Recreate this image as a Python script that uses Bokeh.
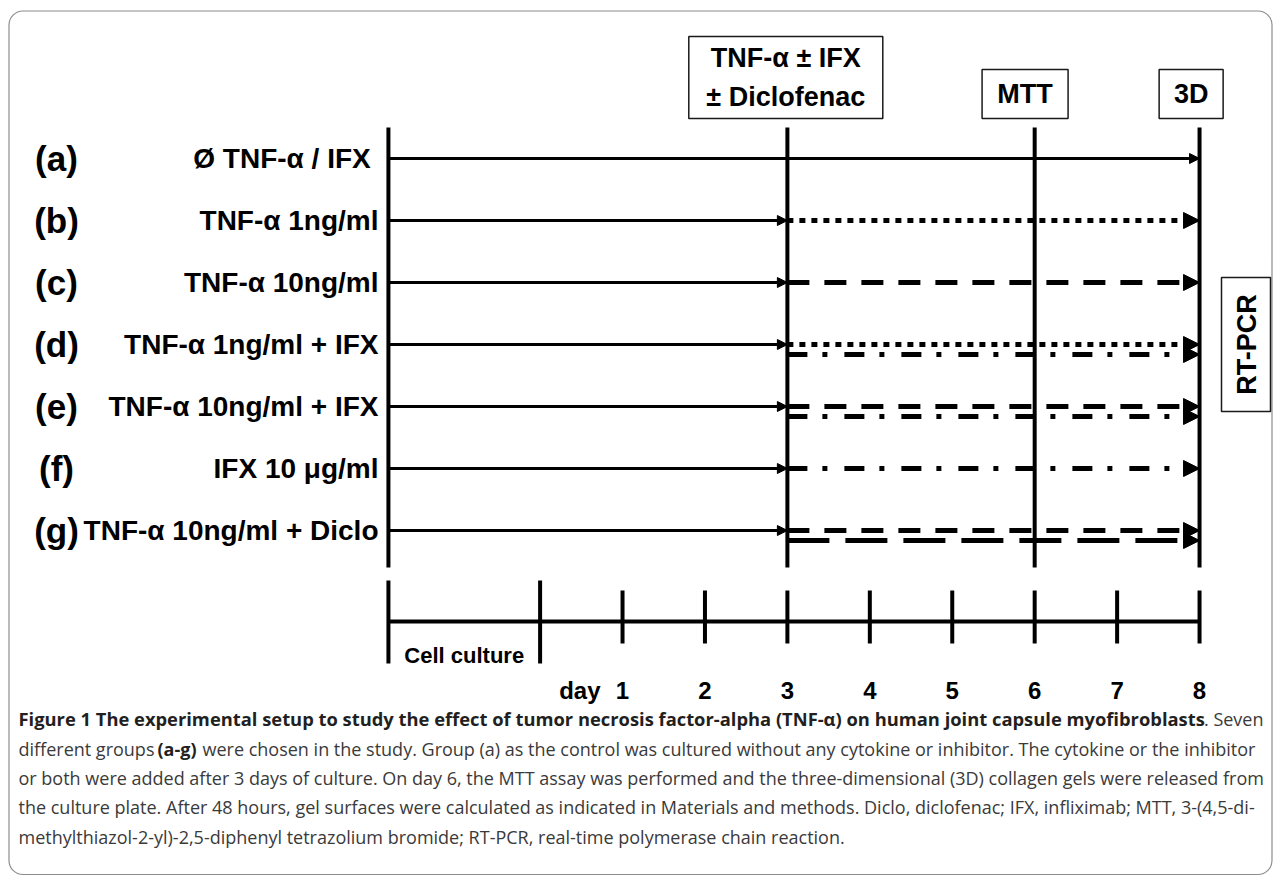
import math
from bokeh.plotting import figure
from bokeh.models import Range1d, Arrow, NormalHead, ColumnDataSource
from bokeh.core.properties import value
from bokeh.embed import file_html
from bokeh.resources import INLINE

# ---------------- data ----------------
group_letters = ["(a)", "(b)", "(c)", "(d)", "(e)", "(f)", "(g)"]
group_labels = ["Ø TNF-α / IFX\u00a0", "TNF-α 1ng/ml", "TNF-α 10ng/ml",
                "TNF-α 1ng/ml + IFX", "TNF-α 10ng/ml + IFX", "IFX 10 μg/ml",
                "TNF-α 10ng/ml + Diclo"]
# line style(s) drawn from the treatment day to the end, per group (upper, lower)
group_treatments = [[], ["dotted"], ["dashed"], ["dotted", "dashdot"],
                    ["dashed", "dashdot"], ["dashdot"], ["dashed", "longdash"]]
day_ticks = [1, 2, 3, 4, 5, 6, 7, 8]
day_tick_labels = ["1", "2", "3", "4", "5", "6", "7", "8"]
culture_start = -1.84      # beginning of the cell-culture period (in days)
culture_end = 0
treatment_day = 3
gel_day = 8
phase_days = [culture_start, 3, 6, 8]
event_days = [3, 6, 8]
event_labels = ["TNF-α ± IFX\n± Diclofenac", "MTT", "3D"]
side_label = "RT-PCR"
culture_label = "Cell culture"
day_word = "day"
caption_bold_1 = ("Figure 1 The experimental setup to study the effect of tumor necrosis "
                  "factor-alpha (TNF-α) on human joint capsule myofibroblasts")
caption_tail_1 = ". Seven"
caption_2a = "different groups"
caption_2b = "(a-g)"
caption_2c = ("were chosen in the study. Group (a) as the control was cultured without "
              "any cytokine or inhibitor. The cytokine or the inhibitor")
caption_rest = [
    "or both were added after 3 days of culture. On day 6, the MTT assay was performed "
    "and the three-dimensional (3D) collagen gels were released from",
    "the culture plate. After 48 hours, gel surfaces were calculated as indicated in "
    "Materials and methods. Diclo, diclofenac; IFX, infliximab; MTT, 3-(4,5-di-",
    "methylthiazol-2-yl)-2,5-diphenyl tetrazolium bromide; RT-PCR, real-time "
    "polymerase chain reaction.",
]

# ---------------- layout / styles ----------------
W, H = 1273, 876
X0, DX = 539.6, 82.43     # pixel of day 0, pixels per day
Y0, DY = 158.0, 62.0      # pixel of row 0, pixels per row
dash_styles = {"dotted": "6 6", "dashed": "22 15", "dashdot": "20 15 5 17",
               "longdash": "42 16"}
ARIAL = value("Liberation Sans")
CAPF = value("Open Sans")

p = figure(width=W, height=H, title=None,
           x_range=Range1d(-X0 / DX, (W - X0) / DX),
           y_range=Range1d((H - Y0) / DY, -Y0 / DY),
           output_backend="svg", toolbar_location=None,
           x_axis_location=None, y_axis_location=None,
           min_border=0, outline_line_color=None,
           background_fill_color="white", border_fill_color="white")
p.extra_x_ranges = {"px": Range1d(0, W)}
p.extra_y_ranges = {"px": Range1d(H, 0)}
p.grid.visible = False

# rounded frame
p.quad(left=[8.5], right=[W - 1.5], top=[10.5], bottom=[H - 2], x_range_name="px",
       y_range_name="px", fill_color=None, line_color="#8c8c8c", line_width=1.2,
       border_radius=14)

# phase vertical lines
p.segment(x0=phase_days, x1=phase_days, y0=[127] * len(phase_days),
          y1=[567] * len(phase_days), y_range_name="px", line_color="black",
          line_width=4)

# solid pre-treatment arrows
rows = list(range(len(group_letters)))
sx1 = [gel_day if not t else treatment_day for t in group_treatments]
solid_src = ColumnDataSource(dict(x0=[culture_start] * len(rows), x1=sx1, y=rows))
p.add_layout(Arrow(end=NormalHead(size=10, fill_color="black", line_color="black",
                                  line_width=1),
                   source=solid_src, x_start="x0", y_start="y", x_end="x1", y_end="y",
                   line_color="black", line_width=3))

# treatment arrows
off = 10.0 / DY
for style, dash in dash_styles.items():
    ys = []
    for i, tr in enumerate(group_treatments):
        for k, s in enumerate(tr):
            if s == style:
                ys.append(i + k * off)
    if not ys:
        continue
    src = ColumnDataSource(dict(x0=[treatment_day] * len(ys), x1=[gel_day] * len(ys), y=ys))
    p.add_layout(Arrow(end=NormalHead(size=16, fill_color="black", line_color="black",
                                      line_width=1),
                       source=src, x_start="x0", y_start="y", x_end="x1", y_end="y",
                       line_color="black", line_width=5, line_dash=dash))

# group letters and labels
p.text(x=[56] * len(rows), y=rows, text=group_letters, x_range_name="px",
       text_font=ARIAL, text_font_style="bold", text_font_size="35px",
       text_align="center", text_baseline="middle", text_color="black")
p.text(x=[378] * len(rows), y=rows, text=group_labels, x_range_name="px",
       text_font=ARIAL, text_font_style="bold", text_font_size="28px",
       text_align="right", text_baseline="middle", text_color="black")

# event boxes
box_dx = [-1.6, -9.6, -8.4]
box_w = [194, 86, 64]
box_h = [82, 49, 49]
box_y = [77, 93.5, 93.5]
ex = [d + dx / DX for d, dx in zip(event_days, box_dx)]
p.rect(x=ex, y=box_y, width=box_w, height=box_h, width_units="screen",
       height_units="screen", y_range_name="px", fill_color="white",
       line_color="#1a1a1a", line_width=1.5)
p.text(x=ex, y=box_y, text=event_labels, y_range_name="px", text_font=ARIAL,
       text_font_style="bold", text_font_size="27px", text_align="center",
       text_baseline="middle", text_line_height=1.3, text_color="black")

# RT-PCR box
p.rect(x=[1245.5], y=[344], width=[49], height=[134], x_range_name="px",
       y_range_name="px", fill_color="white", line_color="#1a1a1a", line_width=1.5)
p.text(x=[1246.5], y=[344], text=[side_label], x_range_name="px", y_range_name="px",
       angle=math.pi / 2, text_font=ARIAL, text_font_style="bold",
       text_font_size="27px", text_align="center", text_baseline="middle",
       text_color="black")

# bottom timeline
p.segment(x0=[culture_start], x1=[gel_day], y0=[621], y1=[621], y_range_name="px",
          line_color="black", line_width=4)
p.segment(x0=[culture_start, culture_end], x1=[culture_start, culture_end],
          y0=[580, 580], y1=[663, 663], y_range_name="px", line_color="black",
          line_width=4)
p.segment(x0=day_ticks, x1=day_ticks, y0=[590] * len(day_ticks),
          y1=[643] * len(day_ticks), y_range_name="px", line_color="black",
          line_width=4)
p.text(x=[(culture_start + culture_end) / 2], y=[655], text=[culture_label],
       y_range_name="px", text_font=ARIAL, text_font_style="bold",
       text_font_size="22px", text_align="center", text_baseline="middle",
       text_color="black")
p.text(x=day_ticks, y=[690] * len(day_ticks), text=day_tick_labels, y_range_name="px",
       text_font=ARIAL, text_font_style="bold", text_font_size="24px",
       text_align="center", text_baseline="middle", text_color="black")
p.text(x=[day_ticks[0]], y=[690], text=[day_word], x_offset=-22, y_range_name="px",
       text_font=ARIAL, text_font_style="bold", text_font_size="24px",
       text_align="right", text_baseline="middle", text_color="black")

# caption
cap_y = [718, 748, 777, 806, 836]
p.text(x=[18], y=[cap_y[0]], text=[caption_bold_1], x_range_name="px", y_range_name="px",
       text_font=CAPF, text_font_style="bold", text_font_size="18.35px",
       text_align="left", text_baseline="middle", text_color="#231f20")
p.text(x=[1263], y=[cap_y[0]], text=[caption_tail_1], x_range_name="px",
       y_range_name="px", text_font=CAPF, text_font_size="18px", text_align="right",
       text_baseline="middle", text_color="#3a3a3a")
p.text(x=[18], y=[cap_y[1]], text=[caption_2a], x_range_name="px", y_range_name="px",
       text_font=CAPF, text_font_size="18px", text_align="left",
       text_baseline="middle", text_color="#3a3a3a")
p.text(x=[157], y=[cap_y[1]], text=[caption_2b], x_range_name="px", y_range_name="px",
       text_font=CAPF, text_font_style="bold", text_font_size="18px",
       text_align="left", text_baseline="middle", text_color="#231f20")
p.text(x=[202], y=[cap_y[1]], text=[caption_2c], x_range_name="px", y_range_name="px",
       text_font=CAPF, text_font_size="18px", text_align="left",
       text_baseline="middle", text_color="#3a3a3a")
p.text(x=[18] * 3, y=cap_y[2:], text=caption_rest, x_range_name="px", y_range_name="px",
       text_font=CAPF, text_font_size="18px", text_align="left",
       text_baseline="middle", text_color="#3a3a3a")

open("out.html", "w").write(file_html(p, INLINE))
